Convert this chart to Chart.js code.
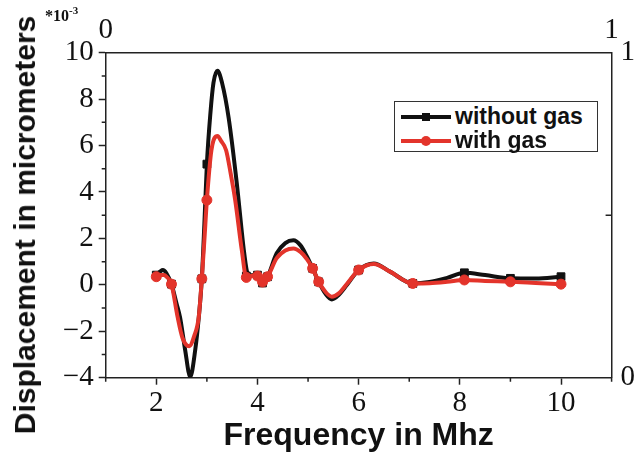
<!DOCTYPE html>
<html>
<head>
<meta charset="utf-8">
<script src="https://cdn.jsdelivr.net/npm/chart.js@4/dist/chart.umd.min.js"></script>
<style>
html,body{margin:0;padding:0;background:#fff;}
#wrap{position:relative;width:637px;height:455px;overflow:hidden;background:#fff;}
#c{position:absolute;left:0;top:0;}
.ytitle{position:absolute;left:25px;top:225px;transform:translate(-50%,-50%) rotate(-90deg);font:bold 30px "Liberation Sans",Arial,sans-serif;white-space:nowrap;color:#111;}
.mult{position:absolute;left:45px;top:5px;font:bold 16px "Liberation Serif","Times New Roman",serif;color:#111;white-space:nowrap;}
.mult sup{font-size:11px;position:relative;top:-1px;}
.legend{position:absolute;left:394px;top:101px;width:202px;height:49px;border:1px solid #333;background:#fff;}
.legend .row{position:absolute;left:0;height:24px;width:200px;}
.legend .ln{position:absolute;left:6px;top:10px;width:50px;height:4px;}
.legend .mk{position:absolute;}
.legend .tx{position:absolute;left:60px;top:-2px;font:bold 23px "Liberation Sans",Arial,sans-serif;color:#111;white-space:nowrap;line-height:26px;}
</style>
</head>
<body>
<div id="wrap">
<canvas id="c" width="637" height="455"></canvas>
<div class="ytitle">Displacement in micrometers</div>
<div class="mult">*10<sup>-3</sup></div>
<div class="legend">
  <div class="row" style="top:3px"><div class="ln" style="background:#111"></div><div class="mk" style="left:27px;top:8px;width:8px;height:8px;background:#111"></div><div class="tx">without gas</div></div>
  <div class="row" style="top:27px"><div class="ln" style="background:#e3342b"></div><div class="mk" style="left:26px;top:7px;width:10px;height:10px;border-radius:50%;background:#e3342b"></div><div class="tx">with gas</div></div>
</div>
</div>
<script>
// ---- data ----
const seriesNames = ['without gas', 'with gas'];

// sampled points along the smooth curves (frequency in MHz, displacement *10^-3 micrometers)
const curveFreqNoGas = [2.0, 2.08, 2.13, 2.2, 2.3, 2.4, 2.47, 2.57, 2.67, 2.77, 2.84, 2.9, 2.95, 3.0, 3.07, 3.13, 3.21, 3.3, 3.43, 3.59, 3.73, 3.79, 3.85, 3.92, 4.0, 4.1, 4.2, 4.38, 4.55, 4.71, 4.85, 4.98, 5.09, 5.21, 5.35, 5.47, 5.6, 5.77, 6.0, 6.3, 6.62, 7.07, 7.4, 7.75, 8.09, 8.5, 9.0, 9.5, 10.0];
const curveDispNoGas = [0.42, 0.58, 0.64, 0.5, 0.03, -0.8, -1.4, -2.8, -3.96, -2.8, -1.4, 0.26, 2.6, 5.2, 7.4, 8.7, 9.22, 8.7, 7.2, 4.4, 1.5, 0.6, 0.4, 0.42, 0.42, 0.08, 0.35, 1.36, 1.8, 1.92, 1.7, 1.21, 0.71, 0.13, -0.4, -0.63, -0.45, 0.0, 0.64, 0.92, 0.57, 0.06, 0.12, 0.3, 0.52, 0.42, 0.28, 0.27, 0.35];

const curveFreqGas = [2.0, 2.1, 2.15, 2.2, 2.3, 2.42, 2.52, 2.65, 2.75, 2.84, 2.9, 2.95, 3.0, 3.09, 3.21, 3.28, 3.38, 3.47, 3.56, 3.69, 3.78, 3.85, 3.92, 4.0, 4.1, 4.2, 4.38, 4.55, 4.71, 4.85, 4.98, 5.09, 5.21, 5.35, 5.47, 5.6, 5.77, 6.0, 6.3, 6.62, 7.07, 7.4, 7.75, 8.09, 8.5, 9.0, 9.5, 10.0];
const curveDispGas = [0.35, 0.42, 0.42, 0.35, 0.03, -1.37, -2.3, -2.64, -2.2, -1.37, 0.26, 1.9, 3.65, 5.8, 6.41, 6.2, 5.8, 4.8, 3.65, 1.5, 0.32, 0.36, 0.4, 0.38, 0.12, 0.35, 1.15, 1.48, 1.57, 1.42, 1.1, 0.71, 0.13, -0.32, -0.51, -0.38, 0.05, 0.64, 0.9, 0.57, 0.06, 0.07, 0.13, 0.21, 0.17, 0.13, 0.08, 0.03];

// marker (measured) points
const markerFreq   = [2.0, 2.3, 2.9, 3.0, 3.78, 4.0, 4.1, 4.2, 5.09, 5.21, 6.0, 7.07, 8.09, 9.0, 10.0];
const markerNoGas  = [0.42, 0.03, 0.26, 5.2, 0.38, 0.42, 0.08, 0.35, 0.71, 0.13, 0.64, 0.06, 0.52, 0.28, 0.35];
const markerGas    = [0.35, 0.03, 0.26, 3.65, 0.32, 0.38, 0.12, 0.35, 0.71, 0.13, 0.64, 0.06, 0.21, 0.13, 0.03];

// tick values
const xMajorTicks = [2, 4, 6, 8, 10];
const xMinorTicks = [1, 3, 5, 7, 9, 11];
const yMajorTicks = [-4, -2, 0, 2, 4, 6, 8, 10];
const yMinorTicks = [-3, -1, 1, 3, 5, 7, 9];
const topTicks = [0, 1];
const rightTicks = [0, 1];
const rightMinorTicks = [0.5];

// ---- styling ----
const BLACK = '#111111';
const RED = '#e3342b';
const AXIS = '#222222';
const serif = '"Liberation Serif","Times New Roman",serif';
const sans = '"Liberation Sans",Arial,sans-serif';

const toPts = (xs, ys) => xs.map((x, i) => ({x: x, y: ys[i]}));

const minorTickPlugin = {
  id: 'minorTicks',
  afterDraw(chart) {
    const {ctx, chartArea: a, scales} = chart;
    ctx.save();
    ctx.strokeStyle = AXIS;
    ctx.lineWidth = 1.5;
    ctx.beginPath();
    xMinorTicks.forEach(v => { const p = scales.x.getPixelForValue(v); ctx.moveTo(p, a.bottom); ctx.lineTo(p, a.bottom + 4); });
    yMinorTicks.forEach(v => { const p = scales.y.getPixelForValue(v); ctx.moveTo(a.left - 4, p); ctx.lineTo(a.left, p); });
    rightMinorTicks.forEach(v => { const p = scales.y2.getPixelForValue(v); ctx.moveTo(a.right - 6, p); ctx.lineTo(a.right, p); });
    ctx.stroke();
    ctx.restore();
  }
};

function fixSize(prop, val) {
  return s => {
    s[prop] = val;
    s.paddingLeft = 0; s.paddingRight = 0; s.paddingTop = 0; s.paddingBottom = 0;
  };
}
const setTicks = arr => s => { s.ticks = arr.map(v => ({value: v})); };
const fmt = v => (v < 0 ? '\u2212' + Math.abs(v) : String(v));

new Chart(document.getElementById('c'), {
  type: 'line',
  data: {
    datasets: [
      {label: seriesNames[1] + ' markers', data: toPts(markerFreq, markerGas), showLine: false,
       pointStyle: 'circle', pointRadius: 5, pointBackgroundColor: RED, pointBorderColor: RED, pointBorderWidth: 1},
      {label: seriesNames[1], data: toPts(curveFreqGas, curveDispGas), borderColor: RED, borderWidth: 4,
       pointRadius: 0, cubicInterpolationMode: 'monotone', fill: false},
      {label: seriesNames[0] + ' markers', data: toPts(markerFreq, markerNoGas), showLine: false,
       pointStyle: 'rect', pointRadius: 5.5, pointBackgroundColor: BLACK, pointBorderColor: BLACK, pointBorderWidth: 1},
      {label: seriesNames[0], data: toPts(curveFreqNoGas, curveDispNoGas), borderColor: BLACK, borderWidth: 4,
       pointRadius: 0, cubicInterpolationMode: 'monotone', fill: false}
    ]
  },
  options: {
    responsive: false,
    animation: false,
    events: [],
    layout: {padding: 0},
    plugins: {legend: {display: false}, tooltip: {enabled: false}},
    scales: {
      x: {
        type: 'linear', position: 'bottom', min: 1, max: 11,
        afterBuildTicks: setTicks(xMajorTicks),
        afterFit: fixSize('height', 455 - 377.7),
        border: {display: true, color: AXIS, width: 1.5},
        grid: {drawOnChartArea: false, drawTicks: true, tickLength: 7, tickColor: AXIS, tickWidth: 1.5},
        ticks: {font: {family: serif, size: 29}, color: BLACK, padding: 1, maxRotation: 0, autoSkip: false, callback: fmt},
        title: {display: true, text: 'Frequency in Mhz', font: {family: sans, size: 32, weight: 'bold'}, color: BLACK, padding: {top: 0, bottom: 0}}
      },
      y: {
        type: 'linear', position: 'left', min: -4, max: 10,
        afterBuildTicks: setTicks(yMajorTicks),
        afterFit: fixSize('width', 105.7),
        border: {display: true, color: AXIS, width: 1.5},
        grid: {drawOnChartArea: false, drawTicks: true, tickLength: 7, tickColor: AXIS, tickWidth: 1.5},
        ticks: {font: {family: serif, size: 29}, color: BLACK, padding: 5, autoSkip: false, callback: fmt}
      },
      x2: {
        type: 'linear', position: 'top', min: 0, max: 1,
        afterBuildTicks: setTicks(topTicks),
        afterFit: fixSize('height', 52.7),
        border: {display: true, color: AXIS, width: 1.5},
        grid: {drawOnChartArea: false, drawTicks: false},
        ticks: {font: {family: serif, size: 29}, color: BLACK, padding: 5, maxRotation: 0, autoSkip: false, callback: fmt}
      },
      y2: {
        type: 'linear', position: 'right', min: 0, max: 1,
        afterBuildTicks: setTicks(rightTicks),
        afterFit: fixSize('width', 637 - 611.6),
        border: {display: true, color: AXIS, width: 1.5},
        grid: {drawOnChartArea: false, drawTicks: false},
        ticks: {font: {family: serif, size: 29}, color: BLACK, padding: 9, autoSkip: false, callback: fmt}
      }
    }
  },
  plugins: [minorTickPlugin]
});
</script>
</body>
</html>
